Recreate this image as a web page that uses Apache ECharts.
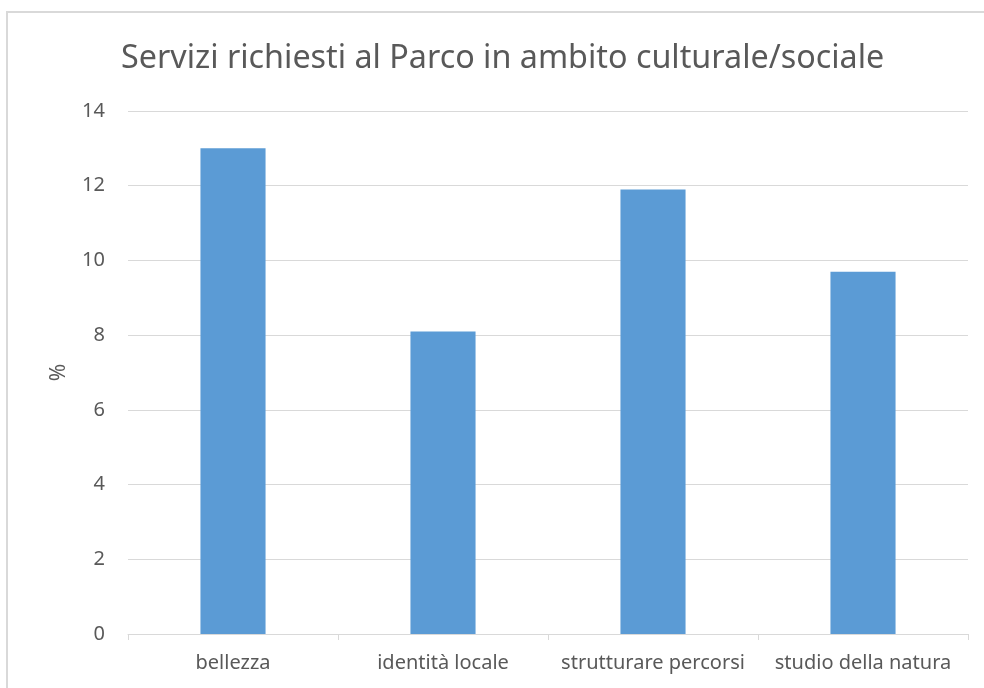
<!DOCTYPE html>
<html><head><meta charset="utf-8">
<script src="https://cdn.jsdelivr.net/npm/echarts@6/dist/echarts.min.js"></script>
<style>html,body{margin:0;padding:0;background:#fff}#c{width:984px;height:688px}</style>
</head><body><div id="c"></div>
<script>
const titleText = 'Servizi richiesti al Parco in ambito culturale/sociale';
const categories = ['bellezza', 'identità locale', 'strutturare percorsi', 'studio della natura'];
const values = [13.0, 8.1, 11.9, 9.7];
const yAxisName = '%';

const chart = echarts.init(document.getElementById('c'));
const font = 'Noto Sans, sans-serif';
chart.setOption({
  animation: false,
  textStyle: {fontFamily: font},
  graphic: [{type: 'rect', shape: {x: 7, y: 12, width: 1000, height: 700}, style: {fill: 'none', stroke: '#d9d9d9', lineWidth: 2}, silent: true}],
  title: {text: titleText, left: 116, top: 38, textStyle: {fontFamily: font, fontSize: 32.3, fontWeight: 'normal', color: '#595959'}},
  grid: {left: 128, right: 16, top: 111, bottom: 54, containLabel: false},
  xAxis: {
    type: 'category', data: categories,
    axisLine: {lineStyle: {color: '#d9d9d9', width: 1}},
    axisTick: {show: true, length: 6, lineStyle: {color: '#d9d9d9'}},
    axisLabel: {color: '#595959', fontSize: 20, margin: 19, interval: 0, fontFamily: font}
  },
  yAxis: {
    type: 'value', min: 0, max: 14, interval: 2,
    name: yAxisName, nameLocation: 'middle', nameGap: 58, nameRotate: 90,
    nameTextStyle: {color: '#595959', fontSize: 21, fontFamily: font},
    axisLine: {show: false}, axisTick: {show: false},
    axisLabel: {color: '#595959', fontSize: 20, margin: 23, fontFamily: font},
    splitLine: {lineStyle: {color: '#d9d9d9', width: 1}}
  },
  series: [{type: 'bar', data: values, barWidth: '31%', itemStyle: {color: '#5b9bd5'}}]
});
</script></body></html>
